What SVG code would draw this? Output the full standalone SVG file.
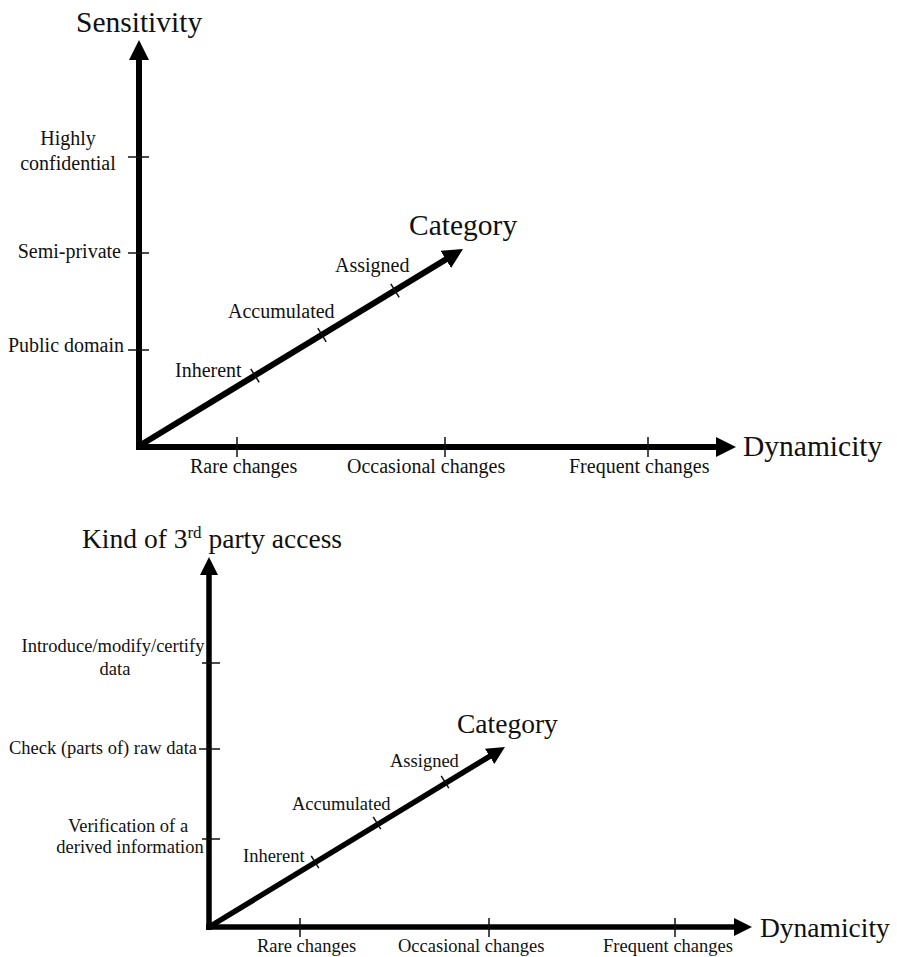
<svg xmlns="http://www.w3.org/2000/svg" width="897" height="957" viewBox="0 0 897 957">
  <style>
    text { font-family: "Liberation Serif", "Times New Roman", serif; fill: #111; }
    .axis { stroke: #000; stroke-width: 6; fill: none; stroke-linecap: butt; }
    .axis-sm { stroke: #000; stroke-width: 5.5; fill: none; stroke-linecap: butt; }
    .diag { stroke: #000; stroke-width: 6; fill: none; }
    .diag-sm { stroke: #000; stroke-width: 5.5; fill: none; }
    .tick { stroke: #111; stroke-width: 1.5; fill: none; }
    .lbl { font-size: 20px; }
    .lbl-sm { font-size: 18.5px; }
    .title { font-size: 29.5px; }
    .title-sm { font-size: 27.5px; }
    .mid { text-anchor: middle; }
    .end { text-anchor: end; }
  </style>
  <defs>
    <marker id="head" viewBox="0 0 20 20" markerWidth="20" markerHeight="20" refX="2" refY="10" orient="auto" markerUnits="userSpaceOnUse">
      <path d="M0,0 L20,10 L0,20 z" fill="#000"/>
    </marker>
    <marker id="head-sm" viewBox="0 0 18 18" markerWidth="18" markerHeight="18" refX="2" refY="9" orient="auto" markerUnits="userSpaceOnUse">
      <path d="M0,0 L18,9 L0,18 z" fill="#000"/>
    </marker>
  </defs>

  <!-- Axis lines of both charts -->
  <g id="connectors">
    <line class="axis" x1="139" y1="450" x2="139" y2="58" marker-end="url(#head)"/>
    <line class="axis" x1="136" y1="447" x2="718" y2="447" marker-end="url(#head)"/>
    <line class="diag" x1="139" y1="446" x2="447.6" y2="258.4" marker-end="url(#head)"/>

    <line class="axis-sm" x1="209" y1="930" x2="209" y2="573" marker-end="url(#head-sm)"/>
    <line class="axis-sm" x1="206" y1="927" x2="736" y2="927" marker-end="url(#head-sm)"/>
    <line class="diag-sm" x1="209" y1="927" x2="491.3" y2="755.3" marker-end="url(#head-sm)"/>
  </g>

  <!-- Upper chart: sensitivity vs dynamicity -->
  <g id="top-sensitivity-axis">
    <text class="title" x="76" y="32">Sensitivity</text>
    <line class="tick" x1="128" y1="157" x2="149" y2="157"/>
    <line class="tick" x1="128" y1="253" x2="149" y2="253"/>
    <line class="tick" x1="128" y1="350" x2="149" y2="350"/>
    <text class="lbl mid" x="68" y="145">Highly</text>
    <text class="lbl mid" x="68" y="170">confidential</text>
    <text class="lbl end" x="121" y="258">Semi-private</text>
    <text class="lbl end" x="124" y="352">Public domain</text>
  </g>

  <g id="top-dynamicity-axis">
    <text class="title" x="743" y="456">Dynamicity</text>
    <line class="tick" x1="237" y1="437" x2="237" y2="457"/>
    <line class="tick" x1="445" y1="437" x2="445" y2="457"/>
    <line class="tick" x1="648" y1="437" x2="648" y2="457"/>
    <text class="lbl" x="190" y="473">Rare changes</text>
    <text class="lbl" x="347" y="473">Occasional changes</text>
    <text class="lbl" x="569" y="473">Frequent changes</text>
  </g>

  <g id="top-category-axis">
    <text class="title" x="409" y="235">Category</text>
    <line class="tick" x1="250.8" y1="368.8" x2="259.2" y2="382.4"/>
    <line class="tick" x1="317.8" y1="328.2" x2="326.2" y2="341.8"/>
    <line class="tick" x1="390.8" y1="283.8" x2="399.2" y2="297.4"/>
    <text class="lbl" x="175" y="377">Inherent</text>
    <text class="lbl" x="228" y="318">Accumulated</text>
    <text class="lbl" x="335" y="272">Assigned</text>
  </g>

  <!-- Lower chart: kind of third-party access vs dynamicity -->
  <g id="bottom-access-axis">
    <text class="title-sm" x="82" y="548">Kind of 3<tspan font-size="17" dy="-10">rd</tspan><tspan dy="10"> party access</tspan></text>
    <line class="tick" x1="202" y1="663" x2="220" y2="663"/>
    <line class="tick" x1="199" y1="749" x2="220" y2="749"/>
    <line class="tick" x1="202" y1="839" x2="220" y2="839"/>
    <text class="lbl-sm mid" x="113" y="652">Introduce/modify/certify</text>
    <text class="lbl-sm mid" x="115" y="675">data</text>
    <text class="lbl-sm end" x="197" y="754">Check (parts of) raw data</text>
    <text class="lbl-sm mid" x="128" y="832">Verification of a</text>
    <text class="lbl-sm mid" x="130" y="853">derived information</text>
  </g>

  <g id="bottom-dynamicity-axis">
    <text class="title-sm" x="760" y="937">Dynamicity</text>
    <line class="tick" x1="300" y1="918" x2="300" y2="937"/>
    <line class="tick" x1="489" y1="918" x2="489" y2="937"/>
    <line class="tick" x1="675" y1="918" x2="675" y2="937"/>
    <text class="lbl-sm" x="257" y="952">Rare changes</text>
    <text class="lbl-sm" x="398" y="952">Occasional changes</text>
    <text class="lbl-sm" x="603" y="952">Frequent changes</text>
  </g>

  <g id="bottom-category-axis">
    <text class="title-sm" x="457" y="733">Category</text>
    <line class="tick" x1="311.2" y1="855.8" x2="318.8" y2="868.2"/>
    <line class="tick" x1="373.2" y1="816.8" x2="380.8" y2="829.2"/>
    <line class="tick" x1="441.2" y1="775.8" x2="448.8" y2="788.2"/>
    <text class="lbl-sm" x="243" y="862">Inherent</text>
    <text class="lbl-sm" x="292" y="810">Accumulated</text>
    <text class="lbl-sm" x="390" y="767">Assigned</text>
  </g>
</svg>
